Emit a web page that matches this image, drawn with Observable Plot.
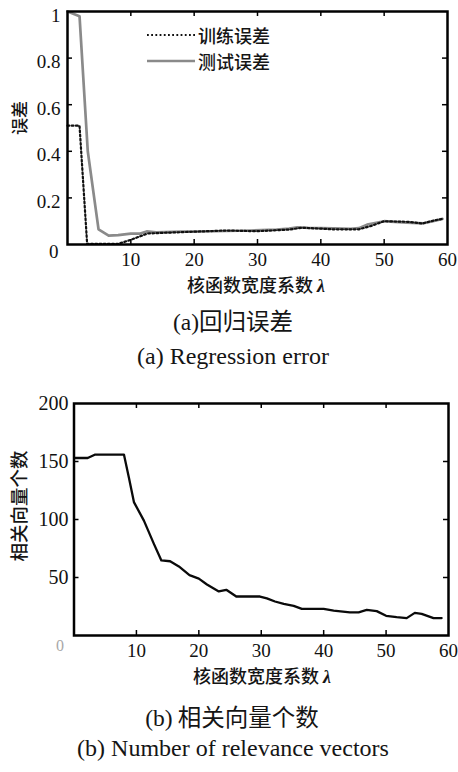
<!DOCTYPE html>
<html><head><meta charset="utf-8">
<script src="https://cdn.jsdelivr.net/npm/d3@7"></script>
<script src="https://cdn.jsdelivr.net/npm/@observablehq/plot@0.6"></script>
<style>
body{margin:0;background:#fff;}
#wrap{position:relative;width:458px;height:772px;background:#fff;overflow:hidden;}
#wrap svg.plot{position:absolute;left:0;}
#wrap svg.plot text{font-family:"Liberation Serif",serif;}
.t{position:absolute;white-space:nowrap;transform:translate(-50%,-50%);font-family:"Noto Sans CJK SC",sans-serif;font-weight:500;color:#151515;line-height:1;}
.l{position:absolute;white-space:nowrap;transform:translate(0,-50%);font-family:"Noto Sans CJK SC",sans-serif;font-weight:500;color:#151515;line-height:1;}
.r{transform:translate(-50%,-50%) rotate(-90deg);}
.cap{font-weight:normal;}
.serif{font-family:"Liberation Serif",serif;font-weight:normal;}
</style></head>
<body><div id="wrap"></div>
<script>
// ---- data (a) regression error ----
const trainX = [0, 1.9, 3.1, 8, 10, 12.6, 15, 20, 25, 30, 35, 37, 40, 42, 46, 48, 50, 54, 56, 58, 59.2];
const trainY = [0.51, 0.51, 0.003, 0.003, 0.02, 0.047, 0.05, 0.055, 0.06, 0.057, 0.064, 0.072, 0.068, 0.065, 0.065, 0.08, 0.1, 0.097, 0.09, 0.104, 0.11];
const testX = [0, 1.9, 3.2, 4.9, 6.5, 8, 10, 11.5, 12.5, 14, 18, 20, 25, 29, 33, 35, 36.3, 38, 42, 44.7, 46, 47.3, 50, 51, 53.6, 56.2, 57.7, 59.2];
const testY = [1.0, 0.98, 0.40, 0.065, 0.038, 0.04, 0.047, 0.047, 0.056, 0.052, 0.055, 0.055, 0.058, 0.06, 0.064, 0.068, 0.074, 0.071, 0.069, 0.067, 0.07, 0.085, 0.1, 0.098, 0.094, 0.091, 0.1, 0.11];
// ---- data (b) number of relevance vectors ----
const rvX = [0.2, 2.2, 3.4, 8.0, 8.8, 9.6, 11.2, 12.8, 14, 15.4, 16.8, 18.5, 20, 21.3, 23.2, 24.4, 26, 29.8, 30.9, 32.2, 33.6, 35.2, 36.5, 40, 41.6, 44.2, 45.6, 46.9, 48.5, 50, 51.7, 53.3, 54.6, 55.7, 57.6, 58.9];
const rvY = [153, 153, 156, 156, 136, 115, 99, 79, 64.7, 64, 59.5, 52, 49, 44, 38, 39.4, 33.6, 33.6, 32, 29.3, 27.3, 25.6, 23, 23, 21.5, 20, 20, 22, 21, 17, 15.8, 15, 19.5, 18.7, 15, 15];
// ---- ticks / labels ----
const xTicks = [10, 20, 30, 40, 50, 60];
const xInnerTicks = [10, 20, 30, 40, 50];
const yTicksA = [0.2, 0.4, 0.6, 0.8, 1];
const yInnerA = [0.2, 0.4, 0.6, 0.8];
const yTicksB = [50, 100, 150, 200];
const yInnerB = [50, 100, 150];
const xLabel = "核函数宽度系数 ";
const yLabelA = "误差";
const yLabelB = "相关向量个数";
const legendNames = ["训练误差", "测试误差"];
const capA1 = "(a)回归误差", capA2 = "(a) Regression error";
const capB1 = "(b) 相关向量个数", capB2 = "(b) Number of relevance vectors";

const train = trainX.map((x, i) => ({x, y: trainY[i]}));
const test = testX.map((x, i) => ({x, y: testY[i]}));
const rv = rvX.map((x, i) => ({x, y: rvY[i]}));

const wrap = document.getElementById("wrap");
const serif = "Liberation Serif";
const DOTS = "1.8 2.4";

function innerTicks(xs, ys, plotW, plotH) {
  return [
    Plot.tickX(xs, {x: d => d, insetTop: plotH - 5, stroke: "black", strokeWidth: 1.5}),
    Plot.tickX(xs, {x: d => d, insetBottom: plotH - 5, stroke: "black", strokeWidth: 1.5}),
    Plot.tickY(ys, {y: d => d, insetRight: plotW - 5, stroke: "black", strokeWidth: 1.5}),
    Plot.tickY(ys, {y: d => d, insetLeft: plotW - 5, stroke: "black", strokeWidth: 1.5})
  ];
}

// ---- plot (a) ----
const A = {w: 458, h: 300, ml: 67, mr: 11, mt: 11, mb: 56};
const plotA = Plot.plot({
  width: A.w, height: A.h,
  marginLeft: A.ml, marginRight: A.mr, marginTop: A.mt, marginBottom: A.mb,
  style: "font-family: 'Liberation Serif', serif; font-size: 18px; color: #111; background: transparent;",
  x: {domain: [0, 60]},
  y: {domain: [0, 1]},
  marks: [
    Plot.line(test, {x: "x", y: "y", stroke: "#8a8a8a", strokeWidth: 2.7}),
    Plot.line(train, {x: "x", y: "y", stroke: "#111", strokeWidth: 2.2, strokeDasharray: DOTS}),
    ...innerTicks(xInnerTicks, yInnerA, A.w - A.ml - A.mr, A.h - A.mt - A.mb),
    Plot.frame({stroke: "black", strokeWidth: 2.5}),
    Plot.axisX(xTicks, {anchor: "bottom", tickSize: 0, tickPadding: 8, label: null, fontSize: 19, fontFamily: serif}),
    Plot.axisY(yTicksA, {anchor: "left", tickSize: 0, tickPadding: 7, label: null, fontSize: 19, fontFamily: serif, dy: 4, tickFormat: d => String(d)}),
    Plot.axisY([0], {anchor: "left", tickSize: 0, tickPadding: 9, label: null, fontSize: 19, fontFamily: serif, dy: 7, tickFormat: d => String(d)})
  ]
});
plotA.classList.add("plot");
plotA.style.top = "0px";
wrap.appendChild(plotA);

// ---- plot (b) ----
const B = {w: 458, h: 300, ml: 73.5, mr: 10, mt: 23, mb: 45, top: 380};
const plotB = Plot.plot({
  width: B.w, height: B.h,
  marginLeft: B.ml, marginRight: B.mr, marginTop: B.mt, marginBottom: B.mb,
  style: "font-family: 'Liberation Serif', serif; font-size: 18px; color: #111; background: transparent;",
  x: {domain: [0, 60]},
  y: {domain: [0, 200]},
  marks: [
    Plot.line(rv, {x: "x", y: "y", stroke: "#0a0a0a", strokeWidth: 2.3}),
    ...innerTicks(xInnerTicks, yInnerB, B.w - B.ml - B.mr, B.h - B.mt - B.mb),
    Plot.frame({stroke: "black", strokeWidth: 2.5}),
    Plot.axisX(xTicks, {anchor: "bottom", tickSize: 0, tickPadding: 8, label: null, fontSize: 19, fontFamily: serif}),
    Plot.axisY(yTicksB, {anchor: "left", tickSize: 0, tickPadding: 5.5, label: null, fontSize: 20, fontFamily: serif}),
    Plot.axisY([0], {anchor: "left", tickSize: 0, tickPadding: 10, label: null, fontSize: 16, fontFamily: serif, dy: 10, fill: "#a8a8a8"})
  ]
});
plotB.classList.add("plot");
plotB.style.top = B.top + "px";
wrap.appendChild(plotB);

// ---- texts ----
function addText(cls, html, x, y, size, extra) {
  const d = document.createElement("div");
  d.className = cls;
  d.innerHTML = html;
  d.style.left = x + "px";
  d.style.top = y + "px";
  d.style.fontSize = size + "px";
  if (extra) Object.assign(d.style, extra);
  wrap.appendChild(d);
  return d;
}
const lam = '<span class="serif" style="font-style:italic;font-weight:bold">λ</span>';
addText("t r", yLabelA, 18, 118, 17);
addText("t", xLabel + lam, 256, 285, 18);
addText("t cap", '<span class="serif">(a)</span>' + capA1.slice(3), 233, 322, 23.5);
addText("t serif", capA2, 233, 356, 24);
addText("t r", yLabelB, 18, 506, 18.5);
addText("t", xLabel + lam, 262, 676, 18);
addText("t cap", '<span class="serif">(b)</span>' + capB1.slice(3), 232, 718, 23.5);
addText("t serif", capB2, 233, 748, 24);

// ---- legend ----
const ns = "http://www.w3.org/2000/svg";
const leg = document.createElementNS(ns, "svg");
leg.setAttribute("width", 60); leg.setAttribute("height", 40);
leg.style.position = "absolute"; leg.style.left = "140px"; leg.style.top = "25px";
const l1 = document.createElementNS(ns, "line");
l1.setAttribute("x1", 7); l1.setAttribute("x2", 55); l1.setAttribute("y1", 10); l1.setAttribute("y2", 10);
l1.setAttribute("stroke", "#111"); l1.setAttribute("stroke-width", 2.2); l1.setAttribute("stroke-dasharray", DOTS);
const l2 = document.createElementNS(ns, "line");
l2.setAttribute("x1", 7); l2.setAttribute("x2", 55); l2.setAttribute("y1", 36); l2.setAttribute("y2", 36);
l2.setAttribute("stroke", "#8a8a8a"); l2.setAttribute("stroke-width", 2.7);
leg.appendChild(l1); leg.appendChild(l2);
wrap.appendChild(leg);
addText("l", legendNames[0], 198, 35, 18);
addText("l", legendNames[1], 198, 61, 18);
</script>
</body></html>
